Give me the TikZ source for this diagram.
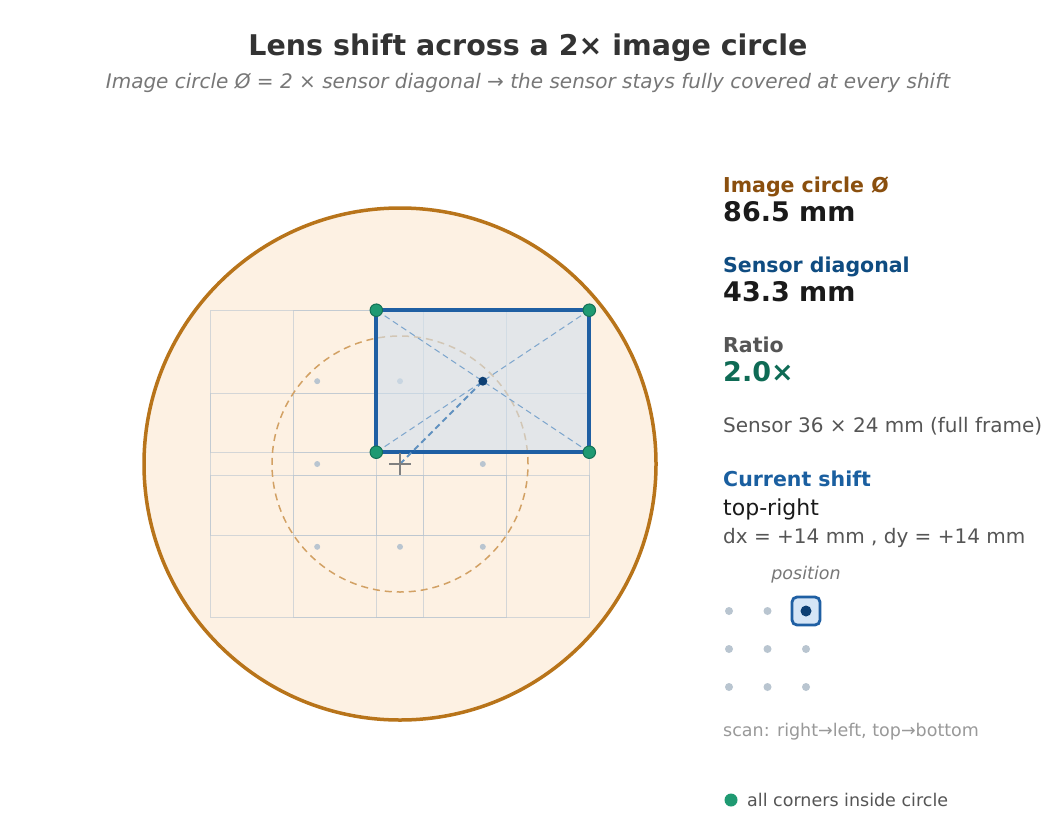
\documentclass[tikz,border=0pt]{standalone}
\usepackage{fontspec}
\setmainfont{DejaVu Sans}
\usetikzlibrary{positioning}

\definecolor{rimbrown}{HTML}{B8741A}
\definecolor{circfill}{HTML}{FDF1E3}
\definecolor{tanline}{HTML}{D2A164}
\definecolor{ghostgray}{HTML}{B9C5D0}
\definecolor{sensorblue}{HTML}{1F5FA3}
\definecolor{sensorfill}{HTML}{D2E0ED}
\definecolor{diagblue}{HTML}{7EA6CD}
\definecolor{navy}{HTML}{0D3F73}
\definecolor{cornergreen}{HTML}{1F9A72}
\definecolor{cornerrim}{HTML}{137055}
\definecolor{titlegray}{HTML}{333333}
\definecolor{subgray}{HTML}{777777}
\definecolor{labelbrown}{HTML}{8A4F0E}
\definecolor{labelblue}{HTML}{0F4C81}
\definecolor{shiftblue}{HTML}{1A5FA0}
\definecolor{midgray}{HTML}{555555}
\definecolor{ratiogreen}{HTML}{0E6B55}
\definecolor{inkblack}{HTML}{1A1A1A}
\definecolor{scangray}{HTML}{999999}
\definecolor{selfill}{HTML}{D5E5F6}

\tikzset{
    txt/.style = {anchor=base west, inner sep=0pt},
    lbl/.style = {txt, font=\fontsize{20.5}{24}\selectfont\bfseries},
    val/.style = {txt, font=\fontsize{27}{32}\selectfont\bfseries, text=inkblack},
    note/.style = {txt, font=\fontsize{20}{24}\selectfont, text=midgray},
    small/.style = {txt, font=\fontsize{17.5}{21}\selectfont},
    ghostbox/.style = {draw=ghostgray, line width=1pt, draw opacity=0.6},
    ghostdot/.style = {circle, fill=ghostgray, inner sep=0pt, minimum size=6pt},
    sensorbox/.style = {draw=sensorblue, line width=4pt, fill=sensorfill, fill opacity=0.6},
    cornerdot/.style = {circle, fill=cornergreen, draw=cornerrim, line width=1pt, inner sep=0pt, minimum size=12.5pt},
    centerdot/.style = {circle, fill=navy, inner sep=0pt, minimum size=9pt},
    posdot/.style = {circle, fill=ghostgray, inner sep=0pt, minimum size=8pt},
    selbox/.style = {rectangle, rounded corners=5pt, draw=sensorblue, line width=2.8pt, fill=selfill, minimum size=28pt},
    diagline/.style = {draw=diagblue, line width=1pt, dash pattern=on 6pt off 4pt},
    shiftline/.style = {draw=diagblue!70!sensorblue, line width=2pt, dash pattern=on 6pt off 4pt},
    crossline/.style = {draw=gray, line width=1.5pt},
}

\begin{document}
\begin{tikzpicture}[x=1pt,y=-1pt]
\fill[white] (0,0) rectangle (1056,832);
\useasboundingbox (0,0) rectangle (1056,832);
%
% heading
\node[font=\fontsize{28.5}{34}\selectfont\bfseries, text=titlegray, anchor=base, inner sep=0pt] (title) at (528,56) {Lens shift across a 2× image circle};
\node[font=\fontsize{20}{24}\selectfont\itshape, text=subgray, anchor=base, inner sep=0pt] (subtitle) at (528,88.5) {Image circle Ø = 2 × sensor diagonal → the sensor stays fully covered at every shift};
%
% image circle
\coordinate (ctr) at (400,464);
\draw[draw=rimbrown, fill=circfill, line width=3.5pt] (ctr) circle[radius=256pt];
%
% all nine shift positions
\foreach \i in {-1,0,1}
  \foreach \j in {-1,0,1}
    \draw[ghostbox] ({400+\i*82.8-106.5},{464+\j*82.8-71}) rectangle +(213,142);
\draw[draw=tanline, line width=1.5pt, dash pattern=on 7pt off 5pt] (ctr) circle[radius=128pt];
\foreach \i/\j in {-1/-1,0/-1,-1/0,1/0,-1/1,0/1,1/1}
  \node[ghostdot] (g\i\j) at ({400+\i*82.8},{464+\j*82.8}) {};
%
% sensor at current shift
\coordinate (sTL) at (376.3,310.2);
\coordinate (sTR) at (589.3,310.2);
\coordinate (sBL) at (376.3,452.2);
\coordinate (sBR) at (589.3,452.2);
\coordinate (sc) at (482.8,381.2);
\draw[sensorbox] (sTL) rectangle (sBR);
\draw[diagline] (sTL) -- (sBR);
\draw[diagline] (sTR) -- (sBL);
\draw[shiftline] (ctr) -- (sc);
\draw[crossline] ([xshift=-11pt]ctr) -- ([xshift=11pt]ctr);
\draw[crossline] ([yshift=-11pt]ctr) -- ([yshift=11pt]ctr);
\node[centerdot] (scdot) at (sc) {};
\node[cornerdot] (c1) at (sTL) {};
\node[cornerdot] (c2) at (sTR) {};
\node[cornerdot] (c3) at (sBL) {};
\node[cornerdot] (c4) at (sBR) {};
%
% readout
\node[lbl, text=labelbrown] (l1) at (723,192) {Image circle Ø};
\node[val] (v1) at (723,221) {86.5 mm};
\node[lbl, text=labelblue] (l2) at (723,272) {Sensor diagonal};
\node[val] (v2) at (723,301) {43.3 mm};
\node[lbl, text=midgray] (l3) at (723,352) {Ratio};
\node[val, text=ratiogreen] (v3) at (723,381) {2.0×};
\node[note] (fmt) at (723,432) {Sensor 36 × 24 mm (full frame)};
\node[lbl, text=shiftblue] (l4) at (723,486) {Current shift};
\node[txt, font=\fontsize{22}{26}\selectfont, text=inkblack] (pos) at (723,515) {top-right};
\node[note] (dxdy) at (723,543) {dx = +14 mm , dy = +14 mm};
%
% position picker
\node[small, anchor=base, font=\fontsize{17.5}{21}\selectfont\itshape, text=subgray] (ptitle) at (806,579) {position};
\foreach \i in {0,1,2}
  \foreach \j in {0,1,2}
    \node[posdot] (p\i\j) at ({729+38.5*\i},{611+38*\j}) {};
\node[selbox] (sel) at (p20) {};
\node[centerdot, minimum size=11pt] (seldot) at (sel) {};
\node[small, text=scangray] (scan) at (723,736) {scan: right→left, top→bottom};
%
% legend
\node[cornerdot, draw=none, minimum size=13pt] (legdot) at (731,800) {};
\node[small, text=midgray] (legtxt) at (747,806) {all corners inside circle};
\end{tikzpicture}
\end{document}
